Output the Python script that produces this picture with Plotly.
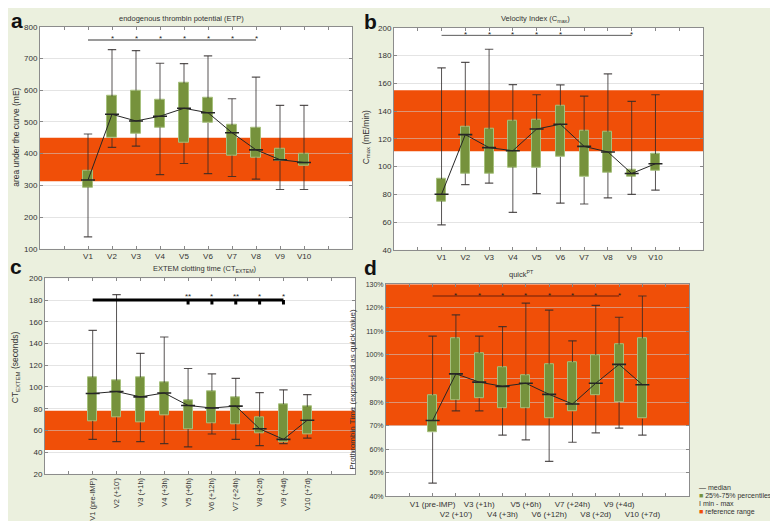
import plotly.graph_objects as go

# ---------------- data ----------------
visits = ["V1", "V2", "V3", "V4", "V5", "V6", "V7", "V8", "V9", "V10"]
visits_long = ["V1 (pre-IMP)", "V2 (+10')", "V3 (+1h)", "V4 (+3h)", "V5 (+6h)",
               "V6 (+12h)", "V7 (+24h)", "V8 (+2d)", "V9 (+4d)", "V10 (+7d)"]
xpos = [1, 2, 3, 4, 5, 6, 7, 8, 9, 10]

# a: endogenous thrombin potential (mE)
etp_min = [138, 420, 424, 334, 369, 337, 328, 320, 287, 287]
etp_q1 = [294, 449, 463, 483, 434, 497, 394, 388, 377, 361]
etp_med = [317, 524, 503, 518, 543, 529, 466, 412, 381, 372]
etp_q3 = [347, 581, 599, 570, 622, 575, 490, 482, 416, 400]
etp_max = [462, 728, 725, 685, 684, 708, 573, 641, 552, 552]
etp_ref = [313, 450]
etp_sig_level = 758
etp_sig_span = [1, 8]
etp_sig_x = [2, 3, 4, 5, 6, 7, 8]
etp_sig_labels = ["*", "*", "*", "*", "*", "*", "*"]

# b: velocity index Cmax (mE/min)
cmax_min = [58, 87, 88, 67, 80.5, 73.6, 73, 77.4, 80, 83]
cmax_q1 = [75, 95, 95, 99.5, 99, 107, 92.4, 95.7, 93, 97]
cmax_med = [80, 123, 113.6, 111.4, 127, 130.5, 114.5, 110.5, 95, 102]
cmax_q3 = [91, 129, 127, 133, 133.6, 144, 125.7, 125, 97.4, 109]
cmax_max = [171, 175, 184.5, 159, 151.7, 158.8, 150.7, 166.7, 147, 151.7]
cmax_ref = [111, 155]
cmax_sig_level = 194.5
cmax_sig_span = [1, 9]
cmax_sig_x = [2, 3, 4, 5, 6, 9]
cmax_sig_labels = ["*", "*", "*", "*", "*", "*"]

# c: EXTEM clotting time (s)
ct_min = [51.8, 49.7, 49.7, 47.9, 44.8, 56.7, 51.8, 46, 47.9, 53]
ct_q1 = [68.8, 72, 67.3, 73.6, 61.2, 67, 66, 57.3, 49.4, 56]
ct_med = [94, 95.8, 90.9, 94.5, 83, 80.6, 82.4, 61.5, 51.8, 69.4]
ct_q3 = [108.8, 106, 108.8, 104, 87.9, 96.4, 90.6, 72.4, 84.2, 81.8]
ct_max = [152, 185, 131, 146, 117, 112, 107.9, 94.8, 97.3, 93]
ct_ref = [42, 78]
ct_sig_level = 180
ct_sig_span = [1, 9]
ct_sig_x = [5, 6, 7, 8, 9]
ct_sig_labels = ["**", "*", "**", "*", "*"]

# d: quick PT (%)
pt_min = [45.7, 76.3, 76.3, 66, 64, 54.9, 63, 67, 69, 66]
pt_q1 = [67.2, 81, 81.7, 77.6, 77.6, 73, 76, 83, 80, 73]
pt_med = [72.2, 92, 88.5, 86.7, 88, 83.3, 79.2, 88, 96, 87.4]
pt_q3 = [83, 107, 100.8, 95, 91.5, 96, 97, 100, 104.4, 107]
pt_max = [108, 117, 108, 112, 122, 119, 106, 121, 116, 125]
pt_ref = [70, 130]
pt_sig_level = 125
pt_sig_span = [1, 9]
pt_sig_x = [2, 3, 4, 5, 6, 7, 8, 9]
pt_sig_labels = ["*", "*", "*", "*", "*", "*", "*", "*"]

# ---------------- style ----------------
W, H = 778, 521
FONT = "Liberation Sans, Arial, sans-serif"
BG = "#ebf0de"
ORANGE = "#f04f08"
BOX_FILL = "#76923c"
BOX_EDGE = "#a6c07c"
WHISK = "rgba(45,40,40,0.8)"
MED = "#262626"
TXT = "#333333"
GRID = "rgba(205,205,205,0.55)"


def px_x(p):
    return p / W


def px_y(p):
    return 1 - p / H


fig = go.Figure()
ann = []


def add_panel(n, mn, q1, med, q3, mx, sig_level, sig_span, sig_x, sig_labels,
              sig_color, sig_width, star_shift, sig_ticks=None):
    xa = "x" if n == 1 else f"x{n}"
    ya = "y" if n == 1 else f"y{n}"
    # boxes
    fig.add_trace(go.Bar(x=xpos, y=[b - a for a, b in zip(q1, q3)], base=q1,
                         width=0.38, xaxis=xa, yaxis=ya, showlegend=False,
                         marker=dict(color=BOX_FILL, line=dict(color=BOX_EDGE, width=1)),
                         hoverinfo="skip"))
    # whiskers
    wx, wy = [], []
    for i, a, b, c, d in zip(xpos, mn, q1, q3, mx):
        wx += [i, i, None, i, i, None]
        wy += [c, d, None, a, b, None]
    fig.add_trace(go.Scatter(x=wx, y=wy, mode="lines", xaxis=xa, yaxis=ya,
                             line=dict(color=WHISK, width=1), showlegend=False,
                             hoverinfo="skip"))
    fig.add_trace(go.Scatter(x=xpos + xpos, y=mx + mn, mode="markers", xaxis=xa, yaxis=ya,
                             marker=dict(symbol="line-ew", size=6,
                                         line=dict(color=WHISK, width=1.2)),
                             showlegend=False, hoverinfo="skip"))
    # medians
    fig.add_trace(go.Scatter(x=xpos, y=med, mode="lines+markers", xaxis=xa, yaxis=ya,
                             line=dict(color=MED, width=1),
                             marker=dict(symbol="line-ew", size=10,
                                         line=dict(color=MED, width=1.6)),
                             showlegend=False, hoverinfo="skip"))
    # significance bar
    fig.add_trace(go.Scatter(x=sig_span, y=[sig_level, sig_level], mode="lines",
                             xaxis=xa, yaxis=ya, line=dict(color=sig_color, width=sig_width),
                             showlegend=False, hoverinfo="skip"))
    if sig_ticks is not None:
        tx, ty = [], []
        for i in sig_x:
            tx += [i, i, None]
            ty += [sig_level, sig_level - sig_ticks, None]
        fig.add_trace(go.Scatter(x=tx, y=ty, mode="lines", xaxis=xa, yaxis=ya,
                                 line=dict(color=sig_color, width=sig_width),
                                 showlegend=False, hoverinfo="skip"))
    for sx, lab in zip(sig_x, sig_labels):
        ann.append(dict(text=lab, x=sx, y=sig_level, xref=xa, yref=ya, showarrow=False,
                        yshift=star_shift, xanchor="center", yanchor="middle",
                        font=dict(size=8, color="#222", family=FONT)))


add_panel(1, etp_min, etp_q1, etp_med, etp_q3, etp_max, etp_sig_level, etp_sig_span,
          etp_sig_x, etp_sig_labels, "#9a9a9a", 2, 2)
add_panel(2, cmax_min, cmax_q1, cmax_med, cmax_q3, cmax_max, cmax_sig_level, cmax_sig_span,
          cmax_sig_x, cmax_sig_labels, "#5a5a5a", 1, 1)
add_panel(3, ct_min, ct_q1, ct_med, ct_q3, ct_max, ct_sig_level, ct_sig_span,
          ct_sig_x, ct_sig_labels, "#000000", 3, 4, sig_ticks=4)
add_panel(4, pt_min, pt_q1, pt_med, pt_q3, pt_max, pt_sig_level, pt_sig_span,
          pt_sig_x, pt_sig_labels, "#6a1e08", 1, 1)

# ---------------- axes ----------------
domains = {
    1: ([32, 344], [15, 241]),
    2: ([386, 695], [16, 242]),
    3: ([37, 347], [271, 470]),
    4: ([378, 681], [277, 493]),
}
yranges = {1: ([100, 800], 100, ""), 2: ([40, 200], 20, ""),
           3: ([20, 200], 20, ""), 4: ([40, 130], 10, "%")}

d_ticktext = [t if k % 2 == 0 else "<br>" + t for k, t in enumerate(visits_long)]
xticktexts = {1: visits, 2: visits, 3: visits_long, 4: d_ticktext}

layout = {}
for n in range(1, 5):
    (x0, x1), (y0, y1) = domains[n]
    xk = "xaxis" if n == 1 else f"xaxis{n}"
    yk = "yaxis" if n == 1 else f"yaxis{n}"
    yr, dt, suf = yranges[n]
    layout[xk] = dict(
        domain=[px_x(x0), px_x(x1)], range=[-1, 12], anchor="y" if n == 1 else f"y{n}",
        tickvals=xpos, ticktext=xticktexts[n], tickangle=-90 if n == 3 else 0,
        ticks="inside", ticklen=3, tickcolor="#888", showgrid=False, zeroline=False,
        showline=True, linecolor="#8c8c8c", linewidth=1, mirror="ticks",
        tickfont=dict(size=8 if n != 3 else 7.5, color=TXT, family=FONT),
        minor=dict(dtick=1, tick0=0, ticks="inside", ticklen=3, tickcolor="#888",
                   showgrid=False),
        fixedrange=True)
    layout[yk] = dict(
        domain=[px_y(y1), px_y(y0)], range=yr, dtick=dt, tick0=yr[0], ticksuffix=suf,
        anchor="x" if n == 1 else f"x{n}",
        ticks="inside", ticklen=3, tickcolor="#888", showgrid=True, gridcolor=GRID,
        gridwidth=1, zeroline=False, showline=True, linecolor="#8c8c8c", linewidth=1,
        mirror="ticks", tickfont=dict(size=8 if n != 4 else 7, color=TXT, family=FONT),
        fixedrange=True)

# reference range bands
refs = {1: etp_ref, 2: cmax_ref, 3: ct_ref, 4: pt_ref}
shapes = []
for n in range(1, 5):
    xr = "x domain" if n == 1 else f"x{n} domain"
    yr = "y" if n == 1 else f"y{n}"
    shapes.append(dict(type="rect", xref=xr, yref=yr, x0=0, x1=1,
                       y0=refs[n][0], y1=refs[n][1], fillcolor=ORANGE,
                       line=dict(width=0), layer="below"))

# ---------------- text ----------------


def add_text(text, x, y, size=8, angle=0, bold=False, xanchor="center", color=TXT):
    ann.append(dict(text=f"<b>{text}</b>" if bold else text, x=px_x(x), y=px_y(y),
                    xref="paper", yref="paper", showarrow=False, textangle=angle,
                    xanchor=xanchor, yanchor="middle", borderpad=0,
                    font=dict(size=size, color=color, family=FONT)))


panel_titles = ["endogenous thrombin potential (ETP)", "Velocity Index (C<sub>max</sub>)",
                "EXTEM clotting time (CT<sub>EXTEM</sub>)", "quick<sup>PT</sup>"]
add_text(panel_titles[0], 173, 7, size=7.5)
add_text(panel_titles[1], 527, 7, size=7.5)
add_text(panel_titles[2], 197, 262, size=7.5)
add_text(panel_titles[3], 513, 267, size=7.5)

ytitles = ["area under the curve (mE)", "C<sub>max</sub> (mE/min)",
           "CT<sub>EXTEM</sub> (seconds)", "Prothrombin Time (expressed as quick value)"]
add_text(ytitles[0], 2, 128, size=8.5, angle=-90, xanchor="left")
add_text(ytitles[1], 352, 128, size=8.5, angle=-90, xanchor="left")
add_text(ytitles[2], 1, 362, size=8.5, angle=-90, xanchor="left")
add_text(ytitles[3], 339, 384, size=8, angle=-90, xanchor="left")

for letter, (lx, ly) in zip(["a", "b", "c", "d"], [(9, 9), (362, 10), (8, 259), (362, 260)]):
    add_text(letter, lx, ly, size=21, bold=True, color="#111")

# legend
legend_items = [
    ("<span style='color:#222'>—</span> median"),
    (f"<span style='color:{BOX_FILL}'>■</span> 25%-75% percentiles"),
    ("<span style='color:#333'>I</span> min - max"),
    (f"<span style='color:{ORANGE}'>■</span> reference range"),
]
for k, item in enumerate(legend_items):
    add_text(item, 690, 484 + k * 8.3, size=7, xanchor="left")

fig.update_layout(
    width=W, height=H, margin=dict(l=0, r=0, t=0, b=0),
    paper_bgcolor=BG, plot_bgcolor="white", showlegend=False,
    shapes=shapes, annotations=ann, bargap=0,
    font=dict(family=FONT, color=TXT), **layout)

fig.write_html("out.html")
